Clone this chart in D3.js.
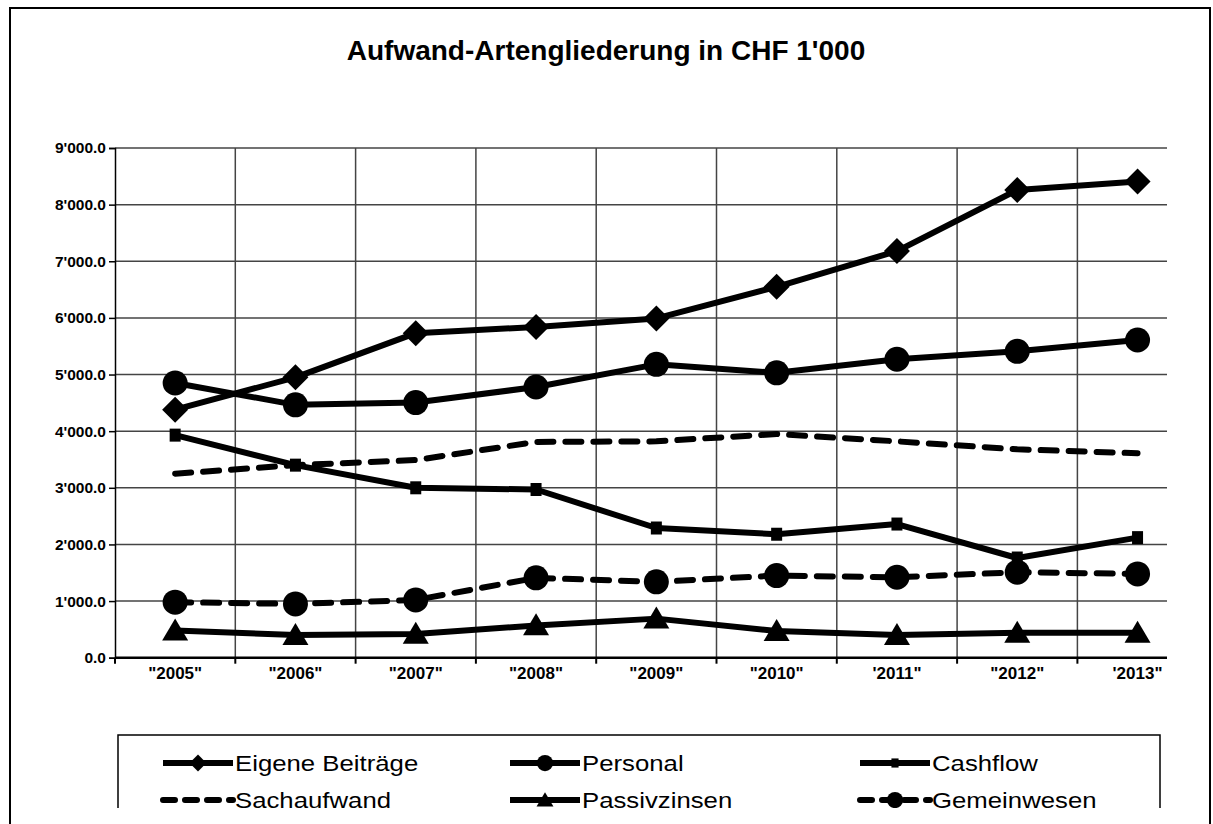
<!DOCTYPE html>
<html><head><meta charset="utf-8">
<script src="https://cdn.jsdelivr.net/npm/d3@7"></script>
<style>body{margin:0;background:#fff}svg{display:block}</style>
</head><body>
<script>
const years = ["2005","2006","2007","2008","2009","2010","2011","2012","2013"];
const yearLabels = ['"2005"','"2006"','"2007"','"2008"','"2009"','"2010"','\'2011"','"2012"','\'2013"'];
const eigeneBeitraege = [4380, 4950, 5730, 5840, 5990, 6550, 7180, 8260, 8410];
const personal       = [4850, 4465, 4505, 4780, 5180, 5030, 5270, 5410, 5610];
const cashflow       = [3930, 3400, 3000, 2970, 2290, 2180, 2360, 1760, 2120];
const sachaufwand    = [3250, 3400, 3490, 3810, 3820, 3950, 3820, 3680, 3610];
const passivzinsen   = [480, 400, 420, 570, 690, 470, 400, 440, 440];
const gemeinwesen    = [980, 950, 1020, 1410, 1340, 1450, 1420, 1510, 1480];
const yTicks = [0,1000,2000,3000,4000,5000,6000,7000,8000,9000];
const title = "Aufwand-Artengliederung in CHF 1'000";

const series = [
  {name:"Eigene Beiträge", values:eigeneBeitraege, dash:null, marker:"diamond"},
  {name:"Personal", values:personal, dash:null, marker:"circle"},
  {name:"Cashflow", values:cashflow, dash:null, marker:"square"},
  {name:"Sachaufwand", values:sachaufwand, dash:"16,12", marker:null},
  {name:"Passivzinsen", values:passivzinsen, dash:null, marker:"triangle"},
  {name:"Gemeinwesen", values:gemeinwesen, dash:"16,12", marker:"circle"}
];

const W = 1213, H = 824;
const svg = d3.select("body").append("svg").attr("width", W).attr("height", H);
const FONT = "'Liberation Sans', Arial, sans-serif";

// outer border
svg.append("rect").attr("x",10).attr("y",8).attr("width",1200).attr("height",830)
  .attr("fill","none").attr("stroke","#000").attr("stroke-width",2);

svg.append("text").attr("x",606).attr("y",60).attr("text-anchor","middle")
  .attr("font-family",FONT).attr("font-weight","bold").attr("font-size",28)
  .text(title);

const pLeft = 115, pRight = 1167, pTop = 148, pBottom = 657.7;
const step = 120.3;
const x = d3.scalePoint().domain(years).range([pLeft, pLeft + step*9]).padding(0.5);
const xb = d3.scaleBand().domain(years).range([pLeft, pLeft + step*9]).paddingInner(0).paddingOuter(0);
const y = d3.scaleLinear().domain([0, 9000]).range([pBottom, pTop]);

const fmt = d3.formatLocale({decimal:".", thousands:"'", grouping:[3], currency:["",""]}).format(",.1f");

// grid
const grid = svg.append("g");
grid.selectAll("line.h").data(yTicks.filter(d=>d>0)).join("line").attr("class","h")
  .attr("x1",pLeft).attr("x2",pRight).attr("y1",d=>y(d)).attr("y2",d=>y(d))
  .attr("stroke","#444").attr("stroke-width",1.5);
grid.selectAll("line.v").data(years.slice(1)).join("line").attr("class","v")
  .attr("x1",d=>xb(d)).attr("x2",d=>xb(d)).attr("y1",pTop).attr("y2",pBottom)
  .attr("stroke","#444").attr("stroke-width",1.5);

// y axis
const yAxis = svg.append("g").attr("transform",`translate(${pLeft},0)`)
  .call(d3.axisLeft(y).tickValues(yTicks).tickFormat(fmt).tickSize(6).tickPadding(3));
yAxis.select(".domain").attr("stroke","#000").attr("stroke-width",1.5);
yAxis.selectAll(".tick line").attr("stroke","#000").attr("stroke-width",1.5);
yAxis.selectAll("text").attr("font-family",FONT).attr("font-weight","bold").attr("font-size",15.5).attr("fill","#000");

// x axis
const xAxisG = svg.append("g").attr("transform",`translate(0,${pBottom})`);
xAxisG.append("line").attr("x1",pLeft).attr("x2",pRight).attr("y1",0).attr("y2",0)
  .attr("stroke","#000").attr("stroke-width",2.5);
xAxisG.selectAll("line.t").data(years).join("line").attr("class","t")
  .attr("x1",d=>xb(d)).attr("x2",d=>xb(d)).attr("y1",0).attr("y2",6)
  .attr("stroke","#000").attr("stroke-width",2);
xAxisG.selectAll("text.xl").data(years).join("text").attr("class","xl")
  .attr("x",d=>x(d)).attr("y",21).attr("text-anchor","middle")
  .attr("font-family",FONT).attr("font-weight","bold").attr("font-size",17)
  .text((d,i)=>yearLabels[i]);

function drawMarker(g, type, cx, cy, s) {
  s = s || 1;
  if (type === "diamond") {
    const r = 13*s;
    g.append("path").attr("d",`M${cx},${cy-r}L${cx+r},${cy}L${cx},${cy+r}L${cx-r},${cy}Z`).attr("fill","#000");
  } else if (type === "circle") {
    g.append("circle").attr("cx",cx).attr("cy",cy).attr("r",12.5*s).attr("fill","#000");
  } else if (type === "square") {
    const r = 5.5*s;
    g.append("rect").attr("x",cx-r).attr("y",cy-r-1).attr("width",2*r).attr("height",2*r+2).attr("fill","#000");
  } else if (type === "triangle") {
    const w = 13*s, h = 22*s;
    g.append("path").attr("d",`M${cx},${cy-h*0.55}L${cx+w},${cy+h*0.45}L${cx-w},${cy+h*0.45}Z`).attr("fill","#000");
  }
}

const line = d3.line().x((d,i)=>x(years[i])).y(d=>y(d));
const plot = svg.append("g");
series.forEach(s => {
  plot.append("path").datum(s.values).attr("d",line)
    .attr("fill","none").attr("stroke","#000").attr("stroke-width",6)
    .attr("stroke-linejoin","round")
    .attr("stroke-linecap", s.dash ? "round" : "butt")
    .attr("stroke-dasharray", s.dash);
  if (s.marker) {
    s.values.forEach((v,i) => drawMarker(plot, s.marker, x(years[i]), y(v)));
  }
});

// legend
svg.append("clipPath").attr("id","lc").append("rect").attr("x",0).attr("y",0).attr("width",W).attr("height",808);
const lg = svg.append("g").attr("clip-path","url(#lc)");
lg.append("rect").attr("x",118).attr("y",735).attr("width",1042).attr("height",120)
  .attr("fill","#fff").attr("stroke","#000").attr("stroke-width",1.5);
const colX = [163, 510, 860], rowY = [763, 800];
series.forEach((s,i) => {
  const cx = colX[i%3], cy = rowY[Math.floor(i/3)];
  const g = lg.append("g");
  g.append("line").attr("x1",cx).attr("x2",cx+70).attr("y1",cy).attr("y2",cy)
    .attr("stroke","#000").attr("stroke-width",6)
    .attr("stroke-linecap", s.dash ? "round":"butt")
    .attr("stroke-dasharray", s.dash ? "12,10" : null);
  if (s.marker) drawMarker(g, s.marker, cx+35, cy, 0.65);
  g.append("text").attr("transform",`translate(${cx+72},${cy+8}) scale(1.12,1)`)
    .attr("font-family",FONT).attr("font-size",23).text(s.name);
});
</script>
</body></html>
